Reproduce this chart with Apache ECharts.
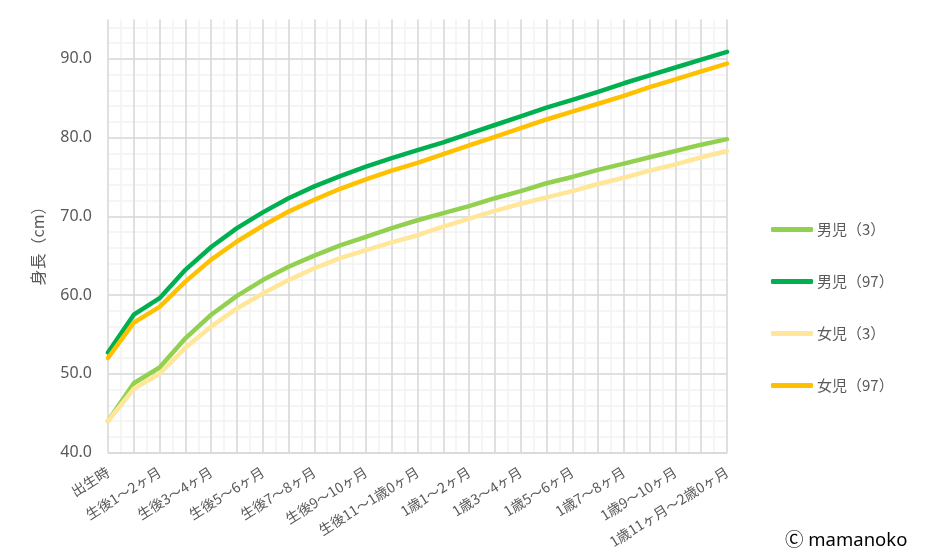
<!DOCTYPE html>
<html>
<head>
<meta charset="utf-8">
<script src="https://cdn.jsdelivr.net/npm/echarts@6/dist/echarts.min.js"></script>
<style>
html,body{margin:0;padding:0;background:#fff;}
#chart{width:927px;height:558px;}
</style>
</head>
<body>
<div id="chart"></div>
<script>
const categories = ['出生時','生後0～1ヶ月','生後1～2ヶ月','生後2～3ヶ月','生後3～4ヶ月','生後4～5ヶ月','生後5～6ヶ月','生後6～7ヶ月','生後7～8ヶ月','生後8～9ヶ月','生後9～10ヶ月','生後10～11ヶ月','生後11～1歳0ヶ月','1歳0～1ヶ月','1歳1～2ヶ月','1歳2～3ヶ月','1歳3～4ヶ月','1歳4～5ヶ月','1歳5～6ヶ月','1歳6～7ヶ月','1歳7～8ヶ月','1歳8～9ヶ月','1歳9～10ヶ月','1歳10～11ヶ月','1歳11ヶ月～2歳0ヶ月'];
const boys3   = [44.0,48.8,50.8,54.5,57.5,59.9,61.9,63.6,65.0,66.3,67.4,68.5,69.5,70.4,71.3,72.3,73.2,74.2,75.0,75.9,76.7,77.5,78.3,79.1,79.8];
const boys97  = [52.7,57.5,59.6,63.2,66.1,68.5,70.5,72.3,73.8,75.1,76.3,77.4,78.4,79.4,80.5,81.6,82.7,83.8,84.8,85.8,86.9,87.9,88.9,89.9,90.9];
const girls3  = [44.0,48.1,50.0,53.3,56.0,58.3,60.2,61.9,63.4,64.7,65.7,66.7,67.6,68.7,69.7,70.7,71.6,72.4,73.2,74.1,74.9,75.8,76.6,77.5,78.3];
const girls97 = [52.0,56.5,58.5,61.7,64.5,66.8,68.8,70.6,72.1,73.5,74.7,75.8,76.8,77.9,79.0,80.1,81.2,82.3,83.3,84.3,85.3,86.4,87.4,88.4,89.4];
const seriesNames = ['男児（3）','男児（97）','女児（3）','女児（97）'];
const seriesData = [boys3, boys97, girls3, girls97];
const colors = ['#92d050','#00b050','#ffe699','#ffc000'];
const yTitle = '身長（cm）';
const credit = 'Ⓒ mamanoko';

const font = '"Noto Sans CJK JP","Noto Sans",sans-serif';
const chart = echarts.init(document.getElementById('chart'), null, {renderer:'canvas'});
const option = {
  animation: false,
  backgroundColor: '#ffffff',
  color: colors,
  textStyle: {fontFamily: font},
  grid: {left: 108, right: 200, top: 19.5, bottom: 105.5, containLabel: false},
  legend: {
    orient: 'vertical', left: 771, top: 222, padding: 0,
    itemWidth: 42, itemHeight: 5, itemGap: 37,
    icon: 'roundRect',
    textStyle: {color: '#595959', fontSize: 15, fontFamily: font, padding: [0,0,0,-1]},
    data: seriesNames
  },
  xAxis: [
    {
      type: 'category', data: categories, boundaryGap: false, z: 1,
      axisLine: {show: true, lineStyle: {color: '#d9d9d9', width: 1.5}},
      axisTick: {show: false},
      splitLine: {show: true, interval: 0, lineStyle: {color: '#d9d9d9', width: 1.5}},
      axisLabel: {interval: 1, rotate: 32, color: '#595959', fontSize: 14, margin: 18, fontFamily: font}
    },
    {
      type: 'value', min: 0, max: 24, interval: 0.5, position: 'bottom', z: 0,
      axisLine: {show: false}, axisTick: {show: false}, axisLabel: {show: false},
      splitLine: {show: true, lineStyle: {color: '#f2f2f2', width: 1.5}}
    }
  ],
  yAxis: [
    {
      type: 'value', min: 40, max: 95, interval: 10, z: 1,
      axisLine: {show: false}, axisTick: {show: false},
      axisLabel: {color: '#595959', fontSize: 16, margin: 16, showMaxLabel: false,
        fontFamily: '"Noto Sans",sans-serif',
        formatter: v => v.toFixed(1)},
      splitLine: {show: true, showMaxLine: false, lineStyle: {color: '#d9d9d9', width: 1.5}}
    },
    {
      type: 'value', min: 40, max: 95, interval: 2, z: 0,
      axisLine: {show: false}, axisTick: {show: false}, axisLabel: {show: false},
      splitLine: {show: true, showMaxLine: false, lineStyle: {color: '#f2f2f2', width: 1.5}}
    }
  ],
  series: seriesNames.map((n, i) => ({
    name: n, type: 'line', data: seriesData[i], xAxisIndex: 0, yAxisIndex: 0,
    showSymbol: false, symbol: 'none', smooth: false, z: 3,
    lineStyle: {width: 4.5, color: colors[i], join: 'round', cap: 'round'},
    itemStyle: {color: colors[i]}
  })),
  graphic: [
    {
      type: 'text', x: 38, y: 242, rotation: Math.PI / 2,
      style: {text: yTitle, fill: '#595959', font: '16px "Noto Sans CJK JP",sans-serif', align: 'center', verticalAlign: 'middle'}
    },
    {
      type: 'text', left: 785, top: 531,
      style: {text: credit, fill: '#000000', font: '18.5px "Noto Sans","Noto Sans CJK JP",sans-serif'}
    }
  ]
};
chart.setOption(option);
</script>
</body>
</html>
